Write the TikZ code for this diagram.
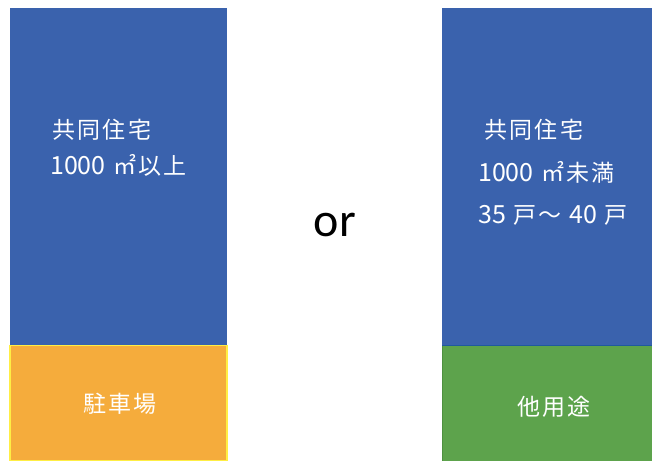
\documentclass[tikz,border=0pt]{standalone}
\usepackage{fontspec}
\setmainfont{Noto Sans CJK JP}
\newfontfamily\cjk[LetterSpace=10]{Noto Sans CJK JP}
\newfontfamily\dgfont{Noto Sans CJK JP}
\newfontfamily\latinsans{Carlito}
\newcommand{\dg}[1]{{\dgfont\fontsize{25}{28}\selectfont #1}}
\definecolor{boxblue}{HTML}{3A62AD}
\definecolor{boxorange}{HTML}{F5AC3C}
\definecolor{boxyellow}{HTML}{FFEE44}
\definecolor{boxgreen}{HTML}{5DA34C}
\definecolor{greenedge}{HTML}{4E9140}
\definecolor{darkline}{HTML}{1F5A9E}
\tikzset{
  lbl/.style={text=white, inner sep=0pt, font=\cjk\fontsize{23}{27}\selectfont},
}
\begin{document}
\begin{tikzpicture}[x=1pt,y=-1pt]
\useasboundingbox (0,0) rectangle (652,460);
% left column
\fill[boxblue] (10,8) rectangle (227,345);
\filldraw[fill=boxorange, draw=boxyellow, line width=1.5pt] (10,345.5) rectangle (227,461);
% right column
\fill[boxblue] (442,8) rectangle (653,345);
\filldraw[fill=boxgreen, draw=greenedge, line width=1pt] (442,345) rectangle (654,461);
\coordinate (gl) at (442,345);
\coordinate (gr) at (653,345);
\draw[darkline, line width=1pt] (gl) -- (gr);
% texts left
\node[lbl, anchor=west] (l1) at (52,130) {共同住宅};
\node[lbl, anchor=west] (l2) at (50,165) {\dg{1000} ㎡以上};
\node[lbl] (l3) at (120,404) {駐車場};
% or
\node[inner sep=0pt, font=\latinsans\fontsize{48}{56}\selectfont] (or) at (335,225) {or};
% texts right
\node[lbl, anchor=west] (r1) at (484,130) {共同住宅};
\node[lbl, anchor=west] (r2) at (478,172) {\dg{1000} ㎡未満};
\node[lbl, anchor=west] (r3) at (478,215) {\dg{35} 戸～ \dg{40} 戸};
\node[lbl] (r4) at (554,407) {他用途};
\end{tikzpicture}
\end{document}
